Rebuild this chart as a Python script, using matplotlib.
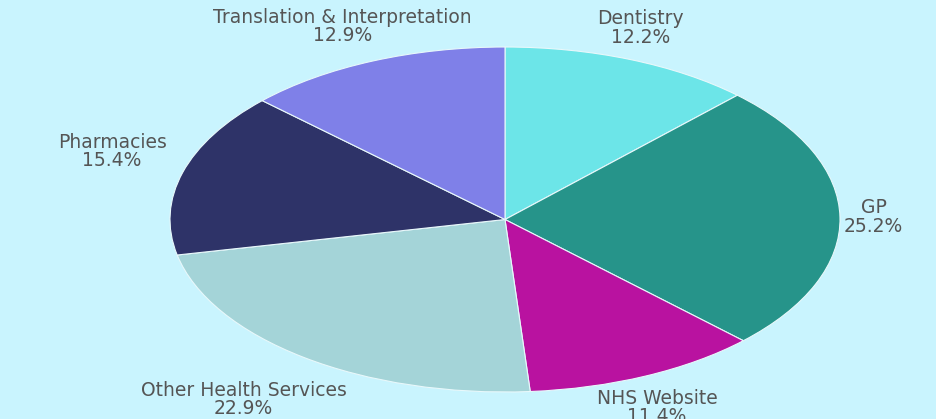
import numpy as np
import matplotlib.pyplot as plt

plt.rcParams['font.family'] = ['DejaVu Sans']

# 数据
categories = ['Dentistry', 'GP', 'NHS Website', 'Other Health Services',
              'Pharmacies', 'Translation & Interpretation']
shares = [12.2, 25.2, 11.4, 22.9, 15.4, 12.9]
colors = ['#6ce5e8', '#26948a', '#b912a0', '#a4d4d8', '#2e3368', '#7f80e8']

bg = '#c9f4fe'
fig = plt.figure(figsize=(9.37, 4.19), dpi=100, facecolor=bg)
# 饼图被横向拉伸成椭圆
ax = fig.add_axes([170 / 937, 27 / 419, 670 / 937, 345 / 419])
ax.set_facecolor(bg)

wedges, _ = ax.pie(shares, colors=colors, startangle=90, counterclock=False,
                   wedgeprops=dict(edgecolor='#e8f8fb', linewidth=0.8))
ax.set_aspect('auto')
ax.set_xlim(-1, 1)
ax.set_ylim(-1, 1)
ax.axis('off')

# 标签位置：沿扇区中线向外 (x方向距离, y方向距离, 对齐)
label_style = {
    'Dentistry': (1.08, 1.08, 'center', 'bottom'),
    'GP': (1.1, 1.1, 'center', 'center'),
    'NHS Website': (1.08, 1.08, 'center', 'top'),
    'Other Health Services': (1.3, 1.17, 'center', 'top'),
    'Pharmacies': (1.05, 1.05, 'right', 'bottom'),
    'Translation & Interpretation': (1.23, 1.1, 'center', 'bottom'),
}
for w, name, val in zip(wedges, categories, shares):
    mid = np.deg2rad((w.theta1 + w.theta2) / 2)
    dx, dy, ha, va = label_style[name]
    ax.text(dx * np.cos(mid), dy * np.sin(mid), f'{name}\n{val:.1f}%',
            ha=ha, va=va, ma='center', fontsize=13.5, color='#555555',
            linespacing=0.95, clip_on=False)

fig.savefig('out.png', dpi=100, facecolor=bg)
